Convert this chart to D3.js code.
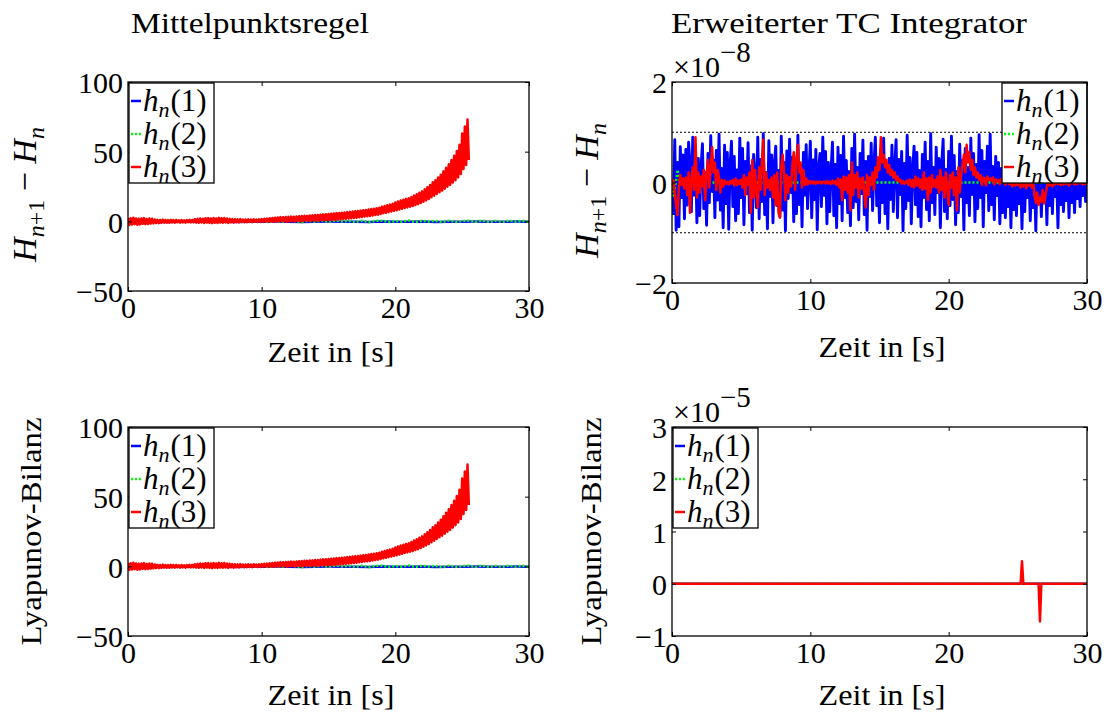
<!DOCTYPE html>
<html>
<head>
<meta charset="utf-8">
<script src="https://cdn.jsdelivr.net/npm/d3@7"></script>
<style>
  body { margin: 0; background: #fff; }
  svg text { font-family: "Liberation Serif", "Times New Roman", "DejaVu Serif", serif; fill: #000; }
</style>
</head>
<body>
<svg id="fig" width="1107" height="718"></svg>
<script>
// ---------------------------------------------------------------
// Data
// ---------------------------------------------------------------
const timeStep = 0.1;          // sampling interval [s]
const xTicks = [0, 10, 20, 30];
const yTicksMP = [-50, 0, 50, 100];
const yTicksTC = [-2, 0, 2];         // x 1e-8
const yTicksLyapTC = [-1, 0, 1, 2, 3]; // x 1e-5
const tcBounds = [-1, 1];            // x 1e-8, dotted tolerance band
const legendIndex = [1, 2, 3];

// Mittelpunktsregel: h_n(1), sampled every 1 s
const mpH1 = [-0.3,-0.2,-0.3,-0.4,-0.2,-0.3,-0.3,-0.2,-0.4,-0.3,
              -0.3,-0.2,-0.3,-0.4,-0.3,-0.2,-0.3,-0.3,-0.4,-0.2,
              -0.3,-0.3,-0.2,-0.4,-0.3,-0.3,-0.2,-0.3,-0.3,-0.2,-0.3];
// Mittelpunktsregel: h_n(2), sampled every 0.5 s
const mpH2 = [0.5,-0.4,0.3,-0.6,0.4,0.2,-0.5,0.6,-0.3,0.4,
              -0.5,0.3,0.6,-0.4,0.2,-0.6,0.5,-0.3,0.4,-0.2,
              0.6,-0.5,0.3,-0.4,0.5,0.2,-0.6,0.4,-0.3,0.5,
              -0.4,0.6,-0.2,0.3,-0.5,0.4,-0.6,0.3,0.5,-0.4,
              0.2,-0.3,0.6,-0.5,0.4,-0.2,0.3,-0.6,0.5,-0.4,
              0.2,0.4,-0.3,0.6,-0.5,0.3,-0.4,0.5,-0.2,0.4,-0.3];
// Mittelpunktsregel: h_n(3), sampled every 0.1 s until the run stops
const mpH3 = [
  2.4,-2.6,2.2,-2.3,2.5,-2.0,2.1,-2.4,1.9,-2.2,
  2.0,-1.8,2.3,-2.1,1.7,-1.9,2.0,-1.6,1.8,-1.5,
  1.3,-1.2,1.1,-1.3,1.0,-1.1,1.2,-0.9,1.0,-1.0,
  0.9,-1.0,1.1,-0.8,0.9,-0.9,1.0,-0.7,0.8,-0.9,
  1.0,-0.8,0.7,-1.0,0.9,-0.6,1.1,-0.8,1.0,-0.7,
  1.5,-0.9,1.8,-1.0,2.0,-0.8,1.9,-1.2,2.2,-0.9,
  2.3,-1.1,2.0,-1.3,2.4,-1.0,2.1,-1.2,2.5,-0.9,
  2.2,-1.0,2.4,-0.8,2.0,-1.1,1.8,-0.7,1.6,-0.9,
  1.5,-0.6,1.4,-0.8,1.6,-0.5,1.3,-0.7,1.2,-0.6,
  1.4,-0.4,1.3,-0.6,1.5,-0.3,1.2,-0.5,1.4,-0.4,
  1.6,-0.3,1.8,-0.2,2.0,-0.4,2.2,-0.1,2.4,-0.3,
  2.6,-0.2,2.8,0.0,3.0,-0.1,2.9,0.1,3.1,-0.2,
  3.2,0.0,3.4,0.2,3.3,-0.1,3.5,0.3,3.6,0.1,
  3.8,0.2,4.0,0.4,3.9,0.3,4.2,0.5,4.3,0.4,
  4.5,0.6,4.6,0.5,4.8,0.8,5.0,0.7,5.1,0.9,
  5.3,1.0,5.5,1.2,5.6,1.1,5.9,1.4,6.0,1.5,
  6.2,1.6,6.4,1.9,6.6,2.0,6.8,2.2,7.0,2.4,
  7.2,2.6,7.4,2.9,7.7,3.1,7.9,3.4,8.2,3.6,
  8.5,3.9,8.8,4.2,9.1,4.5,9.4,4.8,9.8,5.2,
  10.5,5.8,11.0,6.2,11.5,6.6,12.0,7.0,12.7,7.5,
  13.5,8.0,14.2,8.5,14.9,9.0,15.5,9.5,16.0,10.0,
  16.5,10.5,17.5,11.0,18.5,11.7,19.5,12.3,20.5,13.1,
  21.5,14.0,23.0,15.0,24.5,16.0,26.0,17.2,28.0,18.4,
  29.5,19.6,31.5,20.8,33.5,22.0,36.0,23.4,38.5,24.8,
  41.0,26.2,44.0,27.8,47.0,29.5,50.5,31.5,55.0,34.0,
  63.0,37.5,68.0,40.5,73.0,44.0];

// Erweiterter TC Integrator: H_{n+1} - H_n in units of 1e-8, every 0.1 s
const tcH1 = [
  0.00,-0.62,0.85,-0.95,0.40,-0.88,0.71,-0.30,0.55,-0.72,
  0.66,-0.45,0.80,0.35,-0.58,0.90,-0.25,0.62,-0.80,0.48,
  -0.66,0.30,0.77,-0.52,0.20,-0.85,0.58,-0.40,0.93,-0.18,
  0.45,-0.70,0.64,-0.35,0.96,-0.55,0.28,-0.90,0.74,-0.42,
  0.60,-0.93,0.35,0.82,-0.48,0.52,-0.76,0.25,-0.62,0.88,
  -0.30,0.68,-0.84,0.42,-0.22,0.79,-0.60,0.33,-0.95,0.56,
  0.15,-0.50,0.90,-0.72,0.46,-0.38,0.97,-0.64,0.20,-0.92,
  0.83,-0.28,0.55,-0.80,0.38,0.72,-0.46,0.24,-0.68,0.92,
  -0.55,0.40,-0.96,0.63,-0.32,0.86,-0.20,0.50,-0.78,0.35,
  -0.62,0.94,-0.44,0.28,-0.88,0.60,-0.25,0.75,-0.52,0.18,
  0.82,-0.70,0.45,-0.34,0.66,-0.94,0.30,0.58,-0.48,0.90,
  -0.26,0.62,-0.82,0.40,-0.58,0.25,0.80,-0.66,0.36,-0.90,
  0.70,-0.42,0.54,-0.76,0.92,-0.30,0.44,-0.60,0.22,-0.86,
  0.68,-0.50,0.96,-0.38,0.30,-0.74,0.58,-0.22,0.84,-0.64,
  0.42,-0.95,0.52,-0.28,0.78,-0.56,0.34,0.90,-0.46,0.20,
  -0.80,0.66,-0.40,0.88,-0.62,0.26,-0.92,0.48,-0.34,0.74,
  -0.58,0.32,0.85,-0.70,0.46,-0.24,0.62,-0.96,0.38,-0.52,
  0.94,-0.36,0.50,-0.82,0.28,0.72,-0.44,0.60,-0.68,0.24,
  -0.88,0.56,-0.30,0.80,-0.54,0.42,-0.76,0.97,-0.40,0.30,
  -0.64,0.70,-0.20,0.48,-0.90,0.36,0.86,-0.58,0.26,-0.72,
  0.62,-0.46,0.92,-0.34,0.54,-0.84,0.22,-0.60,0.76,-0.28,
  0.44,-0.94,0.68,-0.40,0.30,-0.66,0.88,-0.24,0.58,-0.78,
  0.36,-0.52,0.95,-0.30,0.64,-0.88,0.42,-0.20,0.72,-0.56,
  0.96,-0.44,0.32,-0.74,0.52,-0.26,0.40,-0.82,0.28,-0.60,
  0.34,-0.70,0.22,-0.48,0.30,-0.90,0.26,-0.54,0.18,-0.66,
  0.30,-0.42,0.24,-0.92,0.20,-0.58,0.36,-0.30,0.22,-0.76,
  0.28,-0.50,0.16,-0.96,0.32,-0.40,0.24,-0.68,0.20,-0.36,
  0.26,-0.84,0.30,-0.46,0.18,-0.62,0.34,-0.28,0.22,-0.90,
  0.30,-0.44,0.20,-0.58,0.26,-0.36,0.18,-0.70,0.28,-0.40,
  0.24,-0.60,0.18,-0.32,0.22,-0.48,0.30,-0.26,0.20,-0.38,
  0.10];
// h_n(2): only a short transient at the start, then flat (t, value) pairs
const tcH2 = [[0,0],[0.1,-0.30],[0.2,-0.12],[0.3,0.05],[0.4,0.25],[0.5,0.10],
              [0.6,0.02],[0.8,0.04],[1.0,0.0],[30,0.0]];
const tcH3 = [
  0.00,0.05,-0.20,-0.45,-0.65,-0.10,0.15,-0.05,0.08,-0.12,
  0.10,-0.25,0.20,-0.60,0.05,0.30,-0.15,0.90,-0.30,0.20,
  -0.20,0.12,-0.08,0.25,-0.35,0.15,0.45,-0.10,0.30,0.70,
  0.20,0.40,-0.15,0.25,0.10,-0.20,0.05,-0.08,0.04,-0.03,
  0.02,-0.04,0.03,-0.02,0.05,-0.06,0.08,-0.05,0.04,-0.03,
  0.06,-0.10,0.15,-0.25,0.10,-0.05,0.20,-0.60,0.45,-0.30,
  0.25,-0.20,-0.50,0.30,-0.15,0.40,0.85,-0.25,0.20,-0.10,
  0.05,-0.15,0.10,-0.30,0.15,-0.45,0.20,-0.60,-0.70,0.30,
  0.55,0.20,-0.35,0.15,-0.20,0.10,-0.08,0.35,0.60,-0.15,
  0.50,0.75,0.20,0.40,-0.10,0.25,-0.05,0.08,-0.04,0.03,
  -0.02,0.03,-0.02,0.02,-0.03,0.02,-0.01,0.02,-0.02,0.01,
  0.02,-0.02,0.03,-0.02,0.02,-0.03,0.04,-0.02,0.03,-0.05,
  0.08,-0.10,0.06,-0.35,0.12,-0.15,0.10,-0.20,0.15,-0.55,
  0.40,-0.25,0.15,-0.10,0.20,-0.30,0.08,-0.12,0.10,-0.20,
  -0.50,0.15,-0.25,0.10,-0.05,0.20,-0.15,0.30,0.10,0.50,
  0.25,0.90,0.40,0.55,0.30,0.45,0.20,0.35,0.15,0.25,
  0.10,0.20,0.05,0.12,0.02,0.06,-0.02,0.03,-0.03,0.02,
  0.04,-0.05,0.06,-0.08,0.05,-0.10,0.12,-0.06,0.08,-0.10,
  0.06,-0.15,0.20,-0.12,0.08,-0.35,0.10,-0.20,0.15,-0.08,
  0.05,-0.10,0.12,-0.20,0.25,-0.15,0.10,-0.30,0.20,-0.12,
  -0.45,0.15,-0.10,0.20,-0.25,0.10,-0.55,0.30,-0.20,0.15,
  0.35,0.55,0.20,0.75,0.40,0.60,0.25,0.45,0.15,0.30,
  0.10,0.20,0.05,0.15,-0.05,0.10,0.08,-0.06,0.12,0.05,
  0.08,0.03,0.10,-0.04,0.06,0.02,0.05,-0.03,0.07,0.02,
  0.04,-0.05,0.06,0.02,-0.04,0.05,-0.08,0.04,-0.06,0.03,
  -0.05,0.04,-0.10,0.06,-0.08,0.05,-0.12,0.04,-0.06,0.03,
  -0.10,0.05,-0.25,-0.40,-0.20,-0.45,-0.30,-0.38,-0.15,-0.42,
  -0.25,-0.10,0.05,-0.06,0.04,-0.08,0.05,-0.04,0.06,-0.03,
  0.04,-0.05,0.03,-0.04,0.05,-0.03,0.04,-0.06,0.03,-0.02,
  0.03,-0.04,0.02,-0.03,0.04,-0.02,0.03,-0.04,0.02,-0.03,
  0.00];

// Erweiterter TC Integrator: Lyapunov-Bilanz in units of 1e-5, (t, value) pairs
const lyapTcH1 = [[0,0],[30,0]];
const lyapTcH2 = [[0,0],[30,0]];
const lyapTcH3 = [[0,0],[25.2,0],[25.3,0.43],[25.4,0],[26.5,0],[26.6,-0.72],[26.7,0],[30,0]];

// ---------------------------------------------------------------
// Helpers
// ---------------------------------------------------------------
const sampled = (vals, step) => vals.map((v, i) => [i * step, v]);
const COLORS = { 1: "#0000ff", 2: "#00ff00", 3: "#ff0000" };
const DASH = { 1: null, 2: "2,2", 3: null };

// The Lyapunov balance of the midpoint rule coincides with its energy increment
const mpSeries = [
  { k: 1, pts: sampled(mpH1, 1) },
  { k: 2, pts: sampled(mpH2, 0.5) },
  { k: 3, pts: sampled(mpH3, timeStep) }
];

const panels = [
  { id: "mp-dh", left: 128, top: 82, right: 529, bottom: 291, yDomain: [-50, 100], yTicks: yTicksMP,
    series: mpSeries, legend: "left", xlabelX: 331, xlabelY: 362, ylabel: "dH", ylabelX: 36 },
  { id: "tc-dh", left: 672, top: 82, right: 1087, bottom: 283, yDomain: [-2, 2], yTicks: yTicksTC,
    series: [{ k: 1, pts: sampled(tcH1, timeStep), w: 2.9 }, { k: 2, pts: tcH2 }, { k: 3, pts: sampled(tcH3, timeStep) }],
    refLines: tcBounds, legend: "right", exponent: "8", xlabelX: 882, xlabelY: 357, ylabel: "dH", ylabelX: 598 },
  { id: "mp-ly", left: 128, top: 427, right: 529, bottom: 636, yDomain: [-50, 100], yTicks: yTicksMP,
    series: mpSeries, legend: "left", xlabelX: 331, xlabelY: 705, ylabel: "Lyapunov-Bilanz", ylabelX: 41 },
  { id: "tc-ly", left: 672, top: 427, right: 1087, bottom: 636, yDomain: [-1, 3], yTicks: yTicksLyapTC,
    series: [{ k: 1, pts: lyapTcH1 }, { k: 2, pts: lyapTcH2 }, { k: 3, pts: lyapTcH3 }],
    legend: "left", exponent: "5", xlabelX: 882, xlabelY: 705, ylabel: "Lyapunov-Bilanz", ylabelX: 601 }
];

const svg = d3.select("#fig");
const defs = svg.append("defs");

// Column titles
svg.append("text").attr("x", 131).attr("y", 33).attr("font-size", 30)
  .attr("textLength", 238).attr("lengthAdjust", "spacingAndGlyphs").text("Mittelpunktsregel");
svg.append("text").attr("x", 671).attr("y", 33).attr("font-size", 30)
  .attr("textLength", 356).attr("lengthAdjust", "spacingAndGlyphs").text("Erweiterter TC Integrator");

function styleAxis(sel) {
  sel.attr("font-size", null).attr("font-family", null).attr("color", "#000");
  sel.selectAll(".domain").remove();
  sel.selectAll(".tick line").attr("stroke-width", 1);
  sel.selectAll(".tick text").attr("font-size", 30);
}

function drawPanel(p) {
  const g = svg.append("g").attr("class", "panel-" + p.id);
  const x = d3.scaleLinear().domain([0, 30]).range([p.left, p.right]);
  const y = d3.scaleLinear().domain(p.yDomain).range([p.bottom, p.top]);

  defs.append("clipPath").attr("id", "clip-" + p.id).append("rect")
    .attr("x", p.left).attr("y", p.top).attr("width", p.right - p.left).attr("height", p.bottom - p.top);
  const plot = g.append("g").attr("clip-path", `url(#clip-${p.id})`);

  (p.refLines || []).forEach(v => {
    plot.append("line").attr("x1", x(0)).attr("x2", x(30)).attr("y1", y(v)).attr("y2", y(v))
      .attr("stroke", "#000").attr("stroke-width", 1.2).attr("stroke-dasharray", "2,2");
  });

  const line = d3.line().x(d => x(d[0])).y(d => y(d[1]));
  p.series.forEach(s => {
    plot.append("path").datum(s.pts).attr("d", line)
      .attr("fill", "none").attr("stroke", COLORS[s.k])
      .attr("stroke-width", s.w || 2.5).attr("stroke-linejoin", "round")
      .attr("stroke-dasharray", DASH[s.k]);
  });

  // Axes with inward ticks on all four sides
  g.append("g").attr("transform", `translate(0,${p.bottom})`)
    .call(d3.axisBottom(x).tickValues(xTicks).tickSizeInner(-4).tickSizeOuter(0).tickPadding(6).tickFormat(d3.format("d")))
    .call(styleAxis);
  g.append("g").attr("transform", `translate(0,${p.top})`)
    .call(d3.axisTop(x).tickValues(xTicks).tickSizeInner(-4).tickSizeOuter(0).tickFormat(""))
    .call(styleAxis);
  const yl = g.append("g").attr("transform", `translate(${p.left},0)`)
    .call(d3.axisLeft(y).tickValues(p.yTicks).tickSizeInner(-4).tickSizeOuter(0).tickPadding(5).tickFormat(d3.format("d")))
    .call(styleAxis);
  yl.selectAll(".tick text").attr("dy", "0.36em");
  g.append("g").attr("transform", `translate(${p.right},0)`)
    .call(d3.axisRight(y).tickValues(p.yTicks).tickSizeInner(-4).tickSizeOuter(0).tickFormat(""))
    .call(styleAxis);

  // Legend
  const lw = 85, lh = 100;
  const bx = p.legend === "left" ? p.left + 1 : p.right - lw;
  const by = p.top + 1;
  const lg = g.append("g");
  lg.append("rect").attr("x", bx).attr("y", by).attr("width", lw).attr("height", lh)
    .attr("fill", "#fff").attr("stroke", "#000").attr("stroke-width", 1.3);
  legendIndex.forEach((k, i) => {
    const cy = by + 18 + i * 33;
    lg.append("line").attr("x1", bx + 2).attr("x2", bx + 12).attr("y1", cy).attr("y2", cy)
      .attr("stroke", COLORS[k]).attr("stroke-width", 2.5).attr("stroke-dasharray", DASH[k]);
    const t = lg.append("text").attr("x", bx + 14).attr("y", cy + 10).attr("font-size", 31);
    t.append("tspan").attr("font-style", "italic").text("h");
    t.append("tspan").attr("font-style", "italic").attr("font-size", 22).attr("dy", 6).text("n");
    t.append("tspan").attr("dy", -6).attr("dx", 1).text(`(${k})`);
  });

  // Frame
  g.append("rect").attr("x", p.left).attr("y", p.top)
    .attr("width", p.right - p.left).attr("height", p.bottom - p.top)
    .attr("fill", "none").attr("stroke", "#000").attr("stroke-width", 1.3);

  // Exponent of the y axis
  if (p.exponent) {
    const e = g.append("text").attr("x", p.left + 1).attr("y", p.top - 5).attr("font-size", 30);
    e.append("tspan").text("\u00d710");
    e.append("tspan").attr("dy", -15).attr("font-size", 29).text("\u2212" + p.exponent);
  }

  // x label
  g.append("text").attr("x", p.xlabelX).attr("y", p.xlabelY).attr("text-anchor", "middle")
    .attr("font-size", 30).attr("textLength", 127).attr("lengthAdjust", "spacingAndGlyphs")
    .text("Zeit in [s]");

  // y label
  const cy = (p.top + p.bottom) / 2;
  const ylab = g.append("text").attr("text-anchor", "middle").attr("font-size", 34)
    .attr("transform", `translate(${p.ylabelX},${cy}) rotate(-90)`);
  if (p.ylabel === "dH") {
    ylab.attr("transform", `translate(${p.ylabelX},${cy + 8}) rotate(-90)`);
    ylab.append("tspan").attr("font-style", "italic").text("H");
    ylab.append("tspan").attr("font-style", "italic").attr("font-size", 24).attr("dy", 8).text("n");
    ylab.append("tspan").attr("font-size", 24).text("+1");
    ylab.append("tspan").attr("dy", -8).text(" \u2212 ");
    ylab.append("tspan").attr("font-style", "italic").text("H");
    ylab.append("tspan").attr("font-style", "italic").attr("font-size", 24).attr("dy", 8).text("n");
  } else {
    ylab.attr("font-size", 30).attr("textLength", 228).attr("lengthAdjust", "spacingAndGlyphs").text(p.ylabel);
  }
}

panels.forEach(drawPanel);
</script>
</body>
</html>
